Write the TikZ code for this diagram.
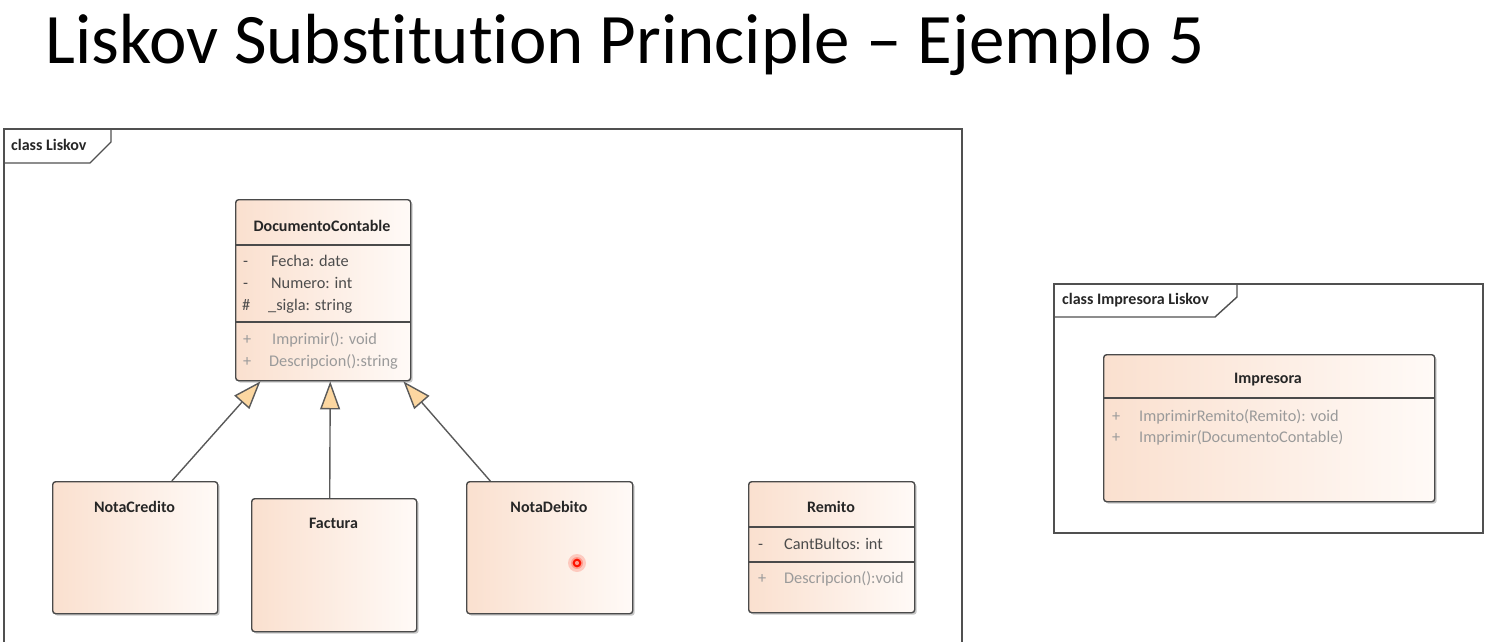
\documentclass[tikz,border=0pt]{standalone}
\usepackage{fontspec}
\setmainfont{Carlito}[Ligatures=NoCommon]
\usetikzlibrary{arrows.meta,shadows,calc}
\definecolor{peach}{HTML}{FAE0CF}
\definecolor{peachlight}{HTML}{FFFAF7}
\definecolor{boxline}{HTML}{4A4A4A}
\definecolor{conn}{HTML}{5A5A5A}
\definecolor{tri}{HTML}{FCD7A1}
\definecolor{attr}{HTML}{4C4C4C}
\definecolor{meth}{HTML}{9A9A9A}
\definecolor{framecol}{HTML}{505050}
\begin{document}
\begin{tikzpicture}[x=1pt,y=-1pt,
  classbox/.style={draw=boxline, line width=1.4pt, rounded corners=3pt,
    left color=peach, right color=peachlight,
    drop shadow={shadow xshift=2pt,shadow yshift=-2pt,opacity=0.22,fill=black},
    anchor=north west, inner sep=0pt},
  cname/.style={font=\bfseries\fontsize{16}{19}\selectfont, text=black!85, inner sep=0pt},
  attrtxt/.style={font=\fontsize{16.3}{19}\selectfont, text=attr, anchor=base west, inner sep=0pt},
  methtxt/.style={font=\fontsize{16.3}{19}\selectfont, text=meth, anchor=base west, inner sep=0pt},
  sepline/.style={draw=boxline, line width=1.3pt},
  framepath/.style={draw=framecol, line width=1.4pt},
  framelabel/.style={font=\bfseries\fontsize{16}{19}\selectfont, text=black!85, anchor=base west, inner sep=0pt},
  genarrow/.style={draw=conn, line width=1.4pt, -{Triangle[length=28pt,width=20pt,fill=tri]}}]
\useasboundingbox (0,0) rectangle (1492,642);
\clip (0,0) rectangle (1492,642);

% title
\node[font=\fontsize{71}{85}\selectfont, anchor=base west, inner sep=0pt] (title) at (45,64) {Liskov Substitution Principle -- Ejemplo 5};

% frame: class Liskov
\draw[framepath] (4,660) -- (4,129) -- (962,129) -- (962,660);
\draw[framepath] (4,163) -- (90,163) -- (111,142) -- (111,129);
\node[framelabel] (fl1) at (11,150) {class Liskov};

% frame: class Impresora Liskov
\draw[framepath] (1054,284) rectangle (1483,533);
\draw[framepath] (1054,317) -- (1215,317) -- (1237,297) -- (1237,284);
\node[framelabel] (fl2) at (1062,304) {class Impresora Liskov};

% DocumentoContable
\node[classbox, minimum width=175pt, minimum height=181pt] (dc) at (235,199) {};
\node[cname] (dcname) at (322,226) {DocumentoContable};
\draw[sepline] (dc.west |- 0,245) -- (dc.east |- 0,245);
\draw[sepline] (dc.west |- 0,322) -- (dc.east |- 0,322);
\node[attrtxt] (dcv1) at (243,266) {-};
\node[attrtxt] (dca1) at (271,266) {Fecha: date};
\node[attrtxt] (dcv2) at (243,288) {-};
\node[attrtxt] (dca2) at (271,288) {Numero: int};
\node[attrtxt] (dcv3) at (242,310) {\#};
\node[attrtxt] (dca3) at (268,310) {\_sigla: string};
\node[methtxt] (dcv4) at (243,344) {+};
\node[methtxt] (dcm1) at (272,344) {Imprimir(): void};
\node[methtxt] (dcv5) at (243,366) {+};
\node[methtxt] (dcm2) at (269,366) {Descripcion():string};

% NotaCredito
\node[classbox, minimum width=165pt, minimum height=132pt] (nc) at (52,481) {};
\node[cname] (ncname) at (134.5,507) {NotaCredito};

% Factura
\node[classbox, minimum width=165pt, minimum height=133pt] (fa) at (251,498) {};
\node[cname] (faname) at (333.5,523) {Factura};

% NotaDebito
\node[classbox, minimum width=166pt, minimum height=132pt] (nd) at (466,481) {};
\node[cname] (ndname) at (549,507) {NotaDebito};

% Remito
\node[classbox, minimum width=166pt, minimum height=131pt] (re) at (748,481) {};
\node[cname] (rename) at (831,507) {Remito};
\draw[sepline] (re.west |- 0,527) -- (re.east |- 0,527);
\draw[sepline] (re.west |- 0,562) -- (re.east |- 0,562);
\node[attrtxt] (rev1) at (758,549) {-};
\node[attrtxt] (rea1) at (784,549) {CantBultos: int};
\node[methtxt] (rev2) at (758,583) {+};
\node[methtxt] (rem1) at (784,583) {Descripcion():void};

% Impresora
\node[classbox, minimum width=331pt, minimum height=147pt] (im) at (1103,354) {};
\node[cname] (imname) at (1268,380) {Impresora};
\draw[sepline] (im.west |- 0,398) -- (im.east |- 0,398);
\node[methtxt] (imv1) at (1112,421) {+};
\node[methtxt] (imm1) at (1139,421) {ImprimirRemito(Remito): void};
\node[methtxt] (imv2) at (1112,442) {+};
\node[methtxt] (imm2) at (1139,442) {Imprimir(DocumentoContable)};

% generalizations
\draw[genarrow] ($(nc.north west)!0.72!(nc.north east)$) -- ($(dc.south west)!0.144!(dc.south east)$);
\draw[genarrow] ($(fa.north west)!0.473!(fa.north east)$) -- ($(dc.south west)!0.54!(dc.south east)$);
\draw[genarrow] ($(nd.north west)!0.145!(nd.north east)$) -- ($(dc.south west)!0.955!(dc.south east)$);

% cursor highlight
\fill[red!80!orange, opacity=0.18] (577,563) circle (9);
\fill[red!80!orange, opacity=0.25] (577,563) circle (6);
\draw[red!85!orange, line width=2pt] (577,563) circle (3.3);
\end{tikzpicture}
\end{document}
